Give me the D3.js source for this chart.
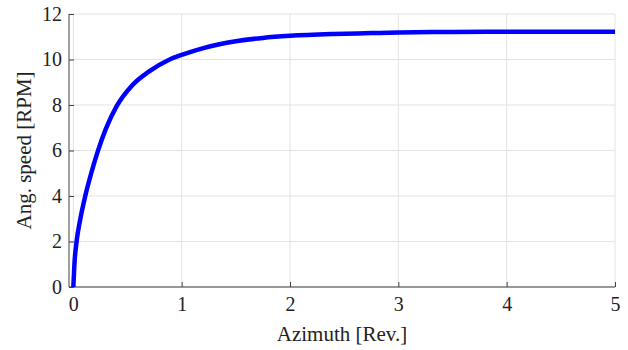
<!DOCTYPE html>
<meta charset="utf-8">
<style>
body { margin: 0; background: white; }
.grid line { stroke: #e3e3e3; stroke-width: 1px; }
.axis path, .axis line { stroke: #404040; }
</style>
<svg width="628" height="350">
  <rect width="100%" height="100%" fill="white"/>
</svg>
<script src="https://d3js.org/d3.v7.min.js"></script>
<script>

// azimuth [rev.] and angular speed [RPM]
var azimuth = [0, 0.01, 0.03, 0.065, 0.11, 0.165, 0.225, 0.3, 0.4, 0.54,
               0.7, 0.88, 1.0, 1.2, 1.5, 1.75, 2.0, 2.4, 2.75, 3.0,
               3.5, 4.0, 4.5, 5.0];
var speed = [0, 1.0, 2.0, 3.0, 4.0, 5.0, 5.95, 6.95, 7.95, 8.85,
             9.48, 9.98, 10.2, 10.5, 10.8, 10.95, 11.04, 11.12, 11.16, 11.19,
             11.21, 11.22, 11.22, 11.22];

var xTicks = [0, 1, 2, 3, 4, 5];
var yTicks = [0, 2, 4, 6, 8, 10, 12];

var serif = "'Liberation Serif', 'Times New Roman', serif";

var svg = d3.select("svg");
var margin = {top: 14, right: 13, bottom: 63, left: 69},
    width = 628 - margin.left - margin.right,
    height = 350 - margin.top - margin.bottom;

var g = svg.append("g")
    .attr("transform", "translate(" + margin.left + "," + margin.top + ")");

var x = d3.scaleLinear().domain([-0.04, 5]).range([0, width]);
var y = d3.scaleLinear().domain([0, 12]).range([height, 0]);

// grid
var grid = g.append("g").attr("class", "grid");
grid.selectAll(".gx")
    .data(xTicks).enter().append("line")
    .attr("x1", function(d) { return x(d); })
    .attr("x2", function(d) { return x(d); })
    .attr("y1", 0).attr("y2", height);
grid.selectAll(".gy")
    .data(yTicks).enter().append("line")
    .attr("x1", 0).attr("x2", width)
    .attr("y1", function(d) { return y(d); })
    .attr("y2", function(d) { return y(d); });

// axes, ticks pointing inward
var xAxis = g.append("g")
    .attr("class", "axis")
    .attr("transform", "translate(0," + height + ")")
    .call(d3.axisBottom(x).tickValues(xTicks).tickFormat(d3.format("d"))
        .tickSizeInner(-5).tickSizeOuter(0).tickPadding(10));
xAxis.select(".domain").attr("d", "M0,0H" + width);

var yAxis = g.append("g")
    .attr("class", "axis")
    .call(d3.axisLeft(y).tickValues(yTicks).tickFormat(d3.format("d"))
        .tickSizeInner(-5).tickSizeOuter(0).tickPadding(7));
yAxis.select(".domain").attr("d", "M0,0V" + height);

g.selectAll(".axis")
    .attr("font-family", serif)
    .attr("font-size", 20);
g.selectAll(".axis text").attr("fill", "#222");

// curve
var line = d3.line()
    .x(function(d, i) { return x(azimuth[i]); })
    .y(function(d) { return y(d); })
    .curve(d3.curveMonotoneX);

g.append("path")
    .datum(speed)
    .attr("fill", "none")
    .attr("stroke", "#0000ff")
    .attr("stroke-width", 4.5)
    .attr("stroke-linejoin", "round")
    .attr("d", line);

// labels
svg.append("text")
    .attr("x", margin.left + width / 2)
    .attr("y", 341)
    .attr("text-anchor", "middle")
    .attr("font-family", serif)
    .attr("font-size", "21px")
    .attr("fill", "#222")
    .text("Azimuth [Rev.]");

svg.append("text")
    .attr("transform", "translate(31," + (margin.top + height / 2) + ") rotate(-90)")
    .attr("text-anchor", "middle")
    .attr("font-family", serif)
    .attr("font-size", "21px")
    .attr("fill", "#222")
    .text("Ang. speed [RPM]");

</script>
